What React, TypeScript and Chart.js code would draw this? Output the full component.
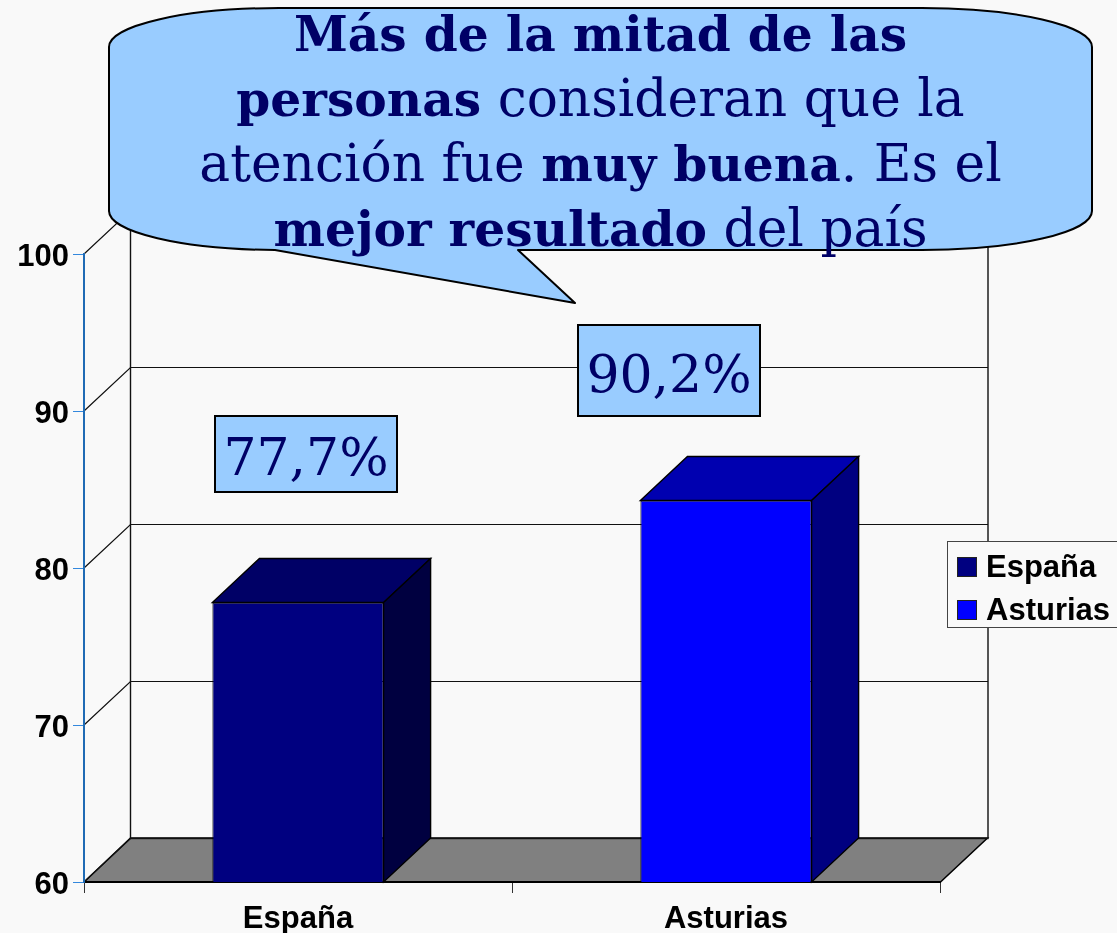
import React, { useEffect, useRef } from "react";
import { Chart, registerables } from "chart.js";

Chart.register(...registerables);

const categories = ["España", "Asturias"];
const espanaValues = [77.8, null];
const asturiasValues = [null, 84.3];
const seriesNames = ["España", "Asturias"];
const yTicks = [60, 70, 80, 90, 100];
const frontColors = ["#000080", "#0000FF"];
const topColors = ["#000066", "#0000B0"];
const sideColors = ["#000040", "#000080"];

const BG = "#F9F9F9";
const NAVY = "#000066";
const CALLOUT = "#99CCFF";
const SANS = '"Liberation Sans", Arial, sans-serif';
const SERIF = '"DejaVu Serif", serif';
const DX = 47;
const DY = 44;

const threeD = {
  id: "threeD",
  beforeDraw(chart: any) {
    const { ctx, chartArea: a, scales } = chart;
    const y = scales.y;
    ctx.save();
    ctx.fillStyle = BG;
    ctx.fillRect(0, 0, chart.width, chart.height);
    // floor
    ctx.fillStyle = "#808080";
    ctx.strokeStyle = "#000";
    ctx.lineWidth = 1.5;
    ctx.beginPath();
    ctx.moveTo(a.left, a.bottom);
    ctx.lineTo(a.left + DX - 0.5, a.bottom - DY);
    ctx.lineTo(a.right + DX + 0.5, a.bottom - DY);
    ctx.lineTo(a.right + 0.5, a.bottom);
    ctx.closePath();
    ctx.fill();
    ctx.stroke();
    // back wall
    ctx.lineWidth = 1.4;
    ctx.strokeStyle = "#111";
    ctx.strokeRect(a.left + DX - 0.5, a.top - DY + 0.5, a.right - a.left + 1.5, a.bottom - a.top);
    yTicks.forEach((t) => {
      const py = Math.round(y.getPixelForValue(t));
      ctx.lineWidth = 1.2;
      ctx.beginPath();
      ctx.moveTo(a.left, py);
      ctx.lineTo(a.left + DX - 0.5, py - DY + 0.5);
      ctx.lineTo(a.right + DX + 1, py - DY + 0.5);
      ctx.stroke();
    });
    ctx.restore();
  },
  afterDatasetsDraw(chart: any) {
    const { ctx, scales } = chart;
    const base = scales.y.getPixelForValue(scales.y.min);
    ctx.save();
    ctx.strokeStyle = "#000";
    ctx.lineWidth = 1.4;
    chart.data.datasets.forEach((_: any, di: number) => {
      chart.getDatasetMeta(di).data.forEach((bar: any, i: number) => {
        const v = chart.data.datasets[di].data[i];
        if (v == null) return;
        const { x, y, width } = bar.getProps(["x", "y", "width"], true);
        const l = x - width / 2;
        const r = x + width / 2;
        ctx.fillStyle = topColors[di];
        ctx.beginPath();
        ctx.moveTo(l, y);
        ctx.lineTo(l + DX, y - DY);
        ctx.lineTo(r + DX, y - DY);
        ctx.lineTo(r, y);
        ctx.closePath();
        ctx.fill();
        ctx.stroke();
        ctx.fillStyle = sideColors[di];
        ctx.beginPath();
        ctx.moveTo(r, y);
        ctx.lineTo(r + DX, y - DY);
        ctx.lineTo(r + DX, base - DY);
        ctx.lineTo(r, base);
        ctx.closePath();
        ctx.fill();
        ctx.stroke();
      });
    });
    ctx.restore();
  },
};

const nudgeLabels = (s: any) => {
  if (s.__nudged) return;
  s.__nudged = true;
  const orig = s._computeLabelItems;
  s._computeLabelItems = function (area: any) {
    const items = orig.call(this, area);
    items.forEach((it: any) => { it.textOffset += 3; });
    return items;
  };
};

const abs = (s: React.CSSProperties): React.CSSProperties => ({ position: "absolute", ...s });

function ValueBox({ left, top, w, h, text }: { left: number; top: number; w: number; h: number; text: string }) {
  return (
    <div
      style={abs({
        left,
        top,
        width: w,
        height: h,
        boxSizing: "border-box",
        background: CALLOUT,
        border: "2px solid #000",
        color: NAVY,
        fontFamily: SERIF,
        fontSize: 52,
        paddingTop: 6,
        display: "flex",
        alignItems: "center",
        justifyContent: "center",
        whiteSpace: "nowrap",
      })}
    >
      {text}
    </div>
  );
}

const boldStyle: React.CSSProperties = { fontWeight: "bold", fontSize: 48.7 };

export default function App() {
  const ref = useRef<HTMLCanvasElement>(null);
  useEffect(() => {
    const chart = new Chart(ref.current as HTMLCanvasElement, {
      type: "bar",
      data: {
        labels: categories,
        datasets: [
          { label: seriesNames[0], data: espanaValues, backgroundColor: frontColors[0], borderColor: "#000", borderWidth: 1, grouped: false, barPercentage: 0.4, categoryPercentage: 1 },
          { label: seriesNames[1], data: asturiasValues, backgroundColor: frontColors[1], borderColor: "#000", borderWidth: 1, grouped: false, barPercentage: 0.4, categoryPercentage: 1 },
        ] as any,
      },
      options: {
        animation: false,
        responsive: false,
        layout: { padding: { left: 0, right: 177, top: 254, bottom: 0 } },
        plugins: { legend: { display: false }, tooltip: { enabled: false } },
        scales: {
          x: {
            afterFit: (s: any) => { s.height = 51; },
            grid: { drawOnChartArea: false, drawTicks: true, tickLength: 11, tickColor: "#333" },
            border: { color: "#000", width: 2 },
            ticks: { color: "#000", padding: 8, maxRotation: 0, font: { family: SANS, size: 31, weight: "bold" } },
          },
          y: {
            min: 60,
            max: 100,
            afterFit: (s: any) => { s.width = 84; nudgeLabels(s); },
            afterBuildTicks: (s: any) => { s.ticks = yTicks.map((value) => ({ value })); },
            grid: { drawOnChartArea: false, drawTicks: true, tickLength: 11, tickColor: "#3388DD" },
            border: { color: "#1F6BB5", width: 2 },
            ticks: { color: "#000", padding: 4, font: { family: SANS, size: 31, weight: "bold" } },
          },
        },
      } as any,
      plugins: [threeD],
    });
    return () => chart.destroy();
  }, []);

  return (
    <div style={abs({ left: 0, top: 0, width: 1117, height: 933, overflow: "hidden", background: BG })}>
      <canvas ref={ref} width={1117} height={933} style={abs({ left: 0, top: 0 })} />

      <svg width={1117} height={933} style={abs({ left: 0, top: 0 })}>
        <path
          d="M109 47 A170 39 0 0 1 279 8 L922 8 A170 39 0 0 1 1092 47 L1092 211 A170 39 0 0 1 922 250 L518 250 L575 303 L275 250 A170 39 0 0 1 109 211 Z"
          fill={CALLOUT}
          stroke="#000"
          strokeWidth={2}
          strokeLinejoin="round"
        />
      </svg>

      <div
        style={abs({
          left: 109,
          top: 1,
          width: 983,
          textAlign: "center",
          color: NAVY,
          fontFamily: SERIF,
          fontSize: 51.8,
          lineHeight: "64px",
          whiteSpace: "nowrap",
        })}
      >
        <div><span style={boldStyle}>Más de la mitad de las</span></div>
        <div><span style={boldStyle}>personas</span> consideran que la</div>
        <div>atención fue <span style={boldStyle}>muy buena</span>. Es el</div>
        <div><span style={boldStyle}>mejor resultado</span> del país</div>
      </div>

      <ValueBox left={214} top={415} w={184} h={78} text="77,7%" />
      <ValueBox left={577} top={324} w={184} h={93} text="90,2%" />

      <div
        style={abs({
          left: 947,
          top: 541,
          width: 180,
          height: 87,
          boxSizing: "border-box",
          background: BG,
          border: "1.5px solid #444",
        })}
      />
      {seriesNames.map((name, i) => (
        <React.Fragment key={name}>
          <div
            style={abs({
              left: 957,
              top: 557 + i * 43,
              width: 20,
              height: 20,
              boxSizing: "border-box",
              background: frontColors[i],
              border: "1px solid #222",
            })}
          />
          <div
            style={abs({
              left: 986,
              top: 549 + i * 43,
              fontFamily: SANS,
              fontWeight: "bold",
              fontSize: 31,
              lineHeight: "36px",
              color: "#000",
              whiteSpace: "nowrap",
            })}
          >
            {name}
          </div>
        </React.Fragment>
      ))}
    </div>
  );
}
